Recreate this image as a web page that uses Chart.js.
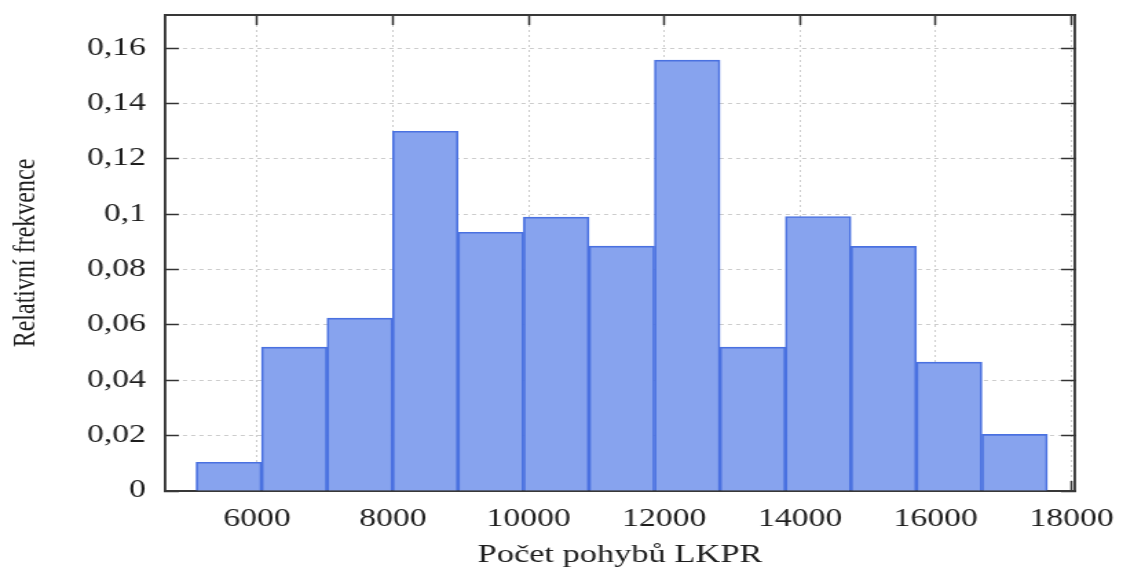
<!DOCTYPE html>
<html lang="cs">
<head>
<meta charset="UTF-8">
<title>Relativní frekvence – počet pohybů LKPR</title>
<script src="https://cdn.jsdelivr.net/npm/chart.js@4"></script>
<style>
  body { margin: 0; background: #fff; overflow: hidden; }
</style>
</head>
<body>
<!-- the source picture is stretched sideways, so draw narrower and widen the canvas -->
<canvas id="histogram" width="816" height="573" style="width:1123px;height:573px"></canvas>
<script>
// histogram bins (počet pohybů) and their relative frequencies
const binEdges = [5100, 6065, 7030, 7995, 8960, 9925, 10890, 11855, 12820, 13785, 14750, 15715, 16680, 17645];
const relFreq = [0.0104, 0.052, 0.0625, 0.130, 0.0935, 0.099, 0.0885, 0.1557, 0.052, 0.0992, 0.0884, 0.0466, 0.0205];

const xTicks = [6000, 8000, 10000, 12000, 14000, 16000, 18000];
const yTicks = [0, 0.02, 0.04, 0.06, 0.08, 0.1, 0.12, 0.14, 0.16];
const yTickLabels = ['0', '0,02', '0,04', '0,06', '0,08', '0,1', '0,12', '0,14', '0,16'];
const xRange = [4644, 18050];
const yRange = [0, 0.172];

const serif = "'Liberation Serif', 'Times New Roman', serif";
const textColor = '#1e1e1e';

// bars sit on the bin centres, width comes from the bin spacing
const points = relFreq.map((v, i) => ({ x: (binEdges[i] + binEdges[i + 1]) / 2, y: v }));

function fixTicks(list) {
    return axis => { axis.ticks = list.map(v => ({ value: v })); };
}

// fixed box sizes so the plot area lands where it is in the picture
function fixSize(w, h) {
    return axis => {
        if (w !== null) axis.width = w;
        if (h !== null) axis.height = h;
        axis.paddingTop = 0;
        axis.paddingBottom = 0;
        axis.paddingLeft = 0;
        axis.paddingRight = 0;
    };
}

function frame(dash) {
    return { display: true, color: '#383838', width: 1.9, dash: dash };
}

function grid(onChart) {
    return {
        drawOnChartArea: onChart,
        offset: false,
        color: '#cccccc',
        lineWidth: 1,
        drawTicks: true,
        tickLength: -10,
        tickColor: '#333333',
        tickWidth: 1.5
    };
}

new Chart(document.getElementById('histogram'), {
    type: 'bar',
    data: {
        datasets: [{
            data: points,
            xAxisID: 'x',
            yAxisID: 'y',
            backgroundColor: '#87a3ee',
            borderColor: '#4a71e0',
            borderWidth: 1.7,
            barPercentage: 1,
            categoryPercentage: 1
        }]
    },
    options: {
        responsive: false,
        animation: false,
        events: [],
        layout: { padding: 0 },
        plugins: {
            legend: { display: false },
            tooltip: { enabled: false }
        },
        scales: {
            x: {
                type: 'linear',
                position: 'bottom',
                min: xRange[0],
                max: xRange[1],
                offset: false,
                afterBuildTicks: fixTicks(xTicks),
                afterFit: fixSize(null, 82),
                border: frame([2, 3]),
                grid: grid(true),
                ticks: {
                    padding: 24,
                    maxRotation: 0,
                    color: textColor,
                    font: { family: serif, size: 24.5 },
                    callback: v => String(v)
                },
                title: {
                    display: true,
                    text: 'Počet pohybů LKPR',
                    color: textColor,
                    font: { family: serif, size: 25 },
                    padding: { top: 0, bottom: 3 }
                }
            },
            y: {
                type: 'linear',
                position: 'left',
                min: yRange[0],
                max: yRange[1],
                afterBuildTicks: fixTicks(yTicks),
                afterFit: fixSize(120, null),
                border: frame([3, 3]),
                grid: grid(true),
                ticks: {
                    padding: 24,
                    color: textColor,
                    font: { family: serif, size: 24.5 },
                    callback: (v, i) => yTickLabels[i]
                },
                title: {
                    display: true,
                    text: 'Relativní frekvence',
                    color: textColor,
                    font: { family: serif, size: 24 },
                    padding: { top: 4, bottom: 0 }
                }
            },
            x2: {
                type: 'linear',
                position: 'top',
                min: xRange[0],
                max: xRange[1],
                offset: false,
                afterBuildTicks: fixTicks(xTicks),
                afterFit: fixSize(null, 15),
                border: frame([]),
                grid: grid(false),
                ticks: { display: false }
            },
            y2: {
                type: 'linear',
                position: 'right',
                min: yRange[0],
                max: yRange[1],
                afterBuildTicks: fixTicks(yTicks),
                afterFit: fixSize(35, null),
                border: frame([]),
                grid: grid(false),
                ticks: { display: false }
            }
        }
    }
});
</script>
</body>
</html>
